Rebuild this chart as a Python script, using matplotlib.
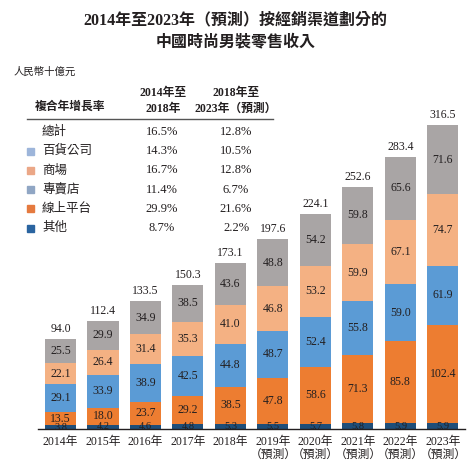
import numpy as np
import matplotlib
matplotlib.use('Agg')
import matplotlib.pyplot as plt
from matplotlib.patches import Rectangle

plt.rcParams['font.family'] = ['Liberation Serif', 'Noto Sans CJK TC']

# data
years = ['2014年', '2015年', '2016年', '2017年', '2018年',
         '2019年\n（預測）', '2020年\n（預測）', '2021年\n（預測）',
         '2022年\n（預測）', '2023年\n（預測）']
other = [3.8, 4.2, 4.6, 4.8, 5.3, 5.5, 5.7, 5.8, 5.9, 5.9]
online = [13.5, 18.0, 23.7, 29.2, 38.5, 47.8, 58.6, 71.3, 85.8, 102.4]
stores = [29.1, 33.9, 38.9, 42.5, 44.8, 48.7, 52.4, 55.8, 59.0, 61.9]
malls = [22.1, 26.4, 31.4, 35.3, 41.0, 46.8, 53.2, 59.9, 67.1, 74.7]
dept = [25.5, 29.9, 34.9, 38.5, 43.6, 48.8, 54.2, 59.8, 65.6, 71.6]
totals = [94.0, 112.4, 133.5, 150.3, 173.1, 197.6, 224.1, 252.6, 283.4, 316.5]

table_rows = ['總計', '百貨公司', '商場', '專賣店', '線上平台', '其他']
cagr_1418 = ['16.5%', '14.3%', '16.7%', '11.4%', '29.9%', '8.7%']
cagr_1823 = ['12.8%', '10.5%', '12.8%', '6.7%', '21.6%', '2.2%']
legend_cols = [None, '#9db5da', '#eba787', '#90a6c4', '#e57a3f', '#2a64a0']

series = [other, online, stores, malls, dept]
colors = ['#1f4e79', '#ed7d31', '#5b9bd5', '#f4b183', '#a9a5a5']

W, H = 471, 466
fig = plt.figure(figsize=(W / 100, H / 100), dpi=100)

def fx(x):
    return x / W

def fy(y):
    return 1 - y / H

txt = '#231f20'

# axes placed so baseline sits at y=429px
ax = fig.add_axes([fx(38), fy(429), fx(465) - fx(38), 330 * 0.96 / H])
x = np.arange(len(years))
bottom = np.zeros(len(years))
for k, (vals, c) in enumerate(zip(series, colors)):
    vals = np.array(vals)
    ax.bar(x, vals, bottom=bottom, width=0.73, color=c, edgecolor='none', zorder=2)
    fs = 7.5 if k == 0 else 8.5
    for xi, b, v in zip(x, bottom, vals):
        ax.text(xi, b + v / 2, f'{v:.1f}', ha='center', va='center',
                fontsize=fs, color=txt, zorder=3)
    bottom += vals

for xi, t in zip(x, totals):
    ax.text(xi, t + 4, f'{t:.1f}', ha='center', va='bottom', fontsize=8.5, color=txt)

ax.set_xlim(-0.53, 9.52)
ax.set_ylim(0, 330)
for s in ['top', 'right', 'left']:
    ax.spines[s].set_visible(False)
ax.spines['bottom'].set_color('#231f20')
ax.spines['bottom'].set_linewidth(1.0)
ax.spines['bottom'].set_zorder(4)
ax.set_yticks([])
ax.set_xticks(x)
ax.set_xticklabels(years, fontsize=8.5, color=txt, linespacing=1.1)
ax.tick_params(axis='x', length=0, pad=5)

# title
fig.text(0.5, fy(20), '2014年至2023年（預測）按經銷渠道劃分的', ha='center', va='center',
         fontsize=11.5, fontweight='bold', color=txt)
fig.text(0.5, fy(42), '中國時尚男裝零售收入', ha='center', va='center',
         fontsize=11.5, fontweight='bold', color=txt)
fig.text(fx(14), fy(72), '人民幣十億元', ha='left', va='center', fontsize=7.5,
         style='italic', color=txt)

# CAGR table
fig.text(fx(35), fy(107), '複合年增長率', ha='left', va='center', fontsize=8.5,
         fontweight='bold', color=txt)
fig.text(fx(163), fy(101), '2014年至\n2018年', ha='center', va='center', fontsize=8.5,
         fontweight='bold', color=txt, linespacing=1.35)
fig.text(fx(236), fy(101), '2018年至\n2023年（預測）', ha='center', va='center',
         fontsize=8.5, fontweight='bold', color=txt, linespacing=1.35)
fig.add_artist(plt.Line2D([fx(27), fx(273)], [fy(119), fy(119)], color='#555555', lw=1))

for i, (name, a, b, lc) in enumerate(zip(table_rows, cagr_1418, cagr_1823, legend_cols)):
    y = 132 + i * 19.2
    if lc:
        fig.add_artist(Rectangle((fx(27), fy(y + 3.5)), 7 / W, 7 / H, color=lc))
    fig.text(fx(42), fy(y), name, ha='left', va='center', fontsize=9, color=txt)
    fig.text(fx(162), fy(y), a, ha='center', va='center', fontsize=9, color=txt)
    fig.text(fx(236), fy(y), b, ha='center', va='center', fontsize=9, color=txt)

fig.savefig('out.png', dpi=100)
